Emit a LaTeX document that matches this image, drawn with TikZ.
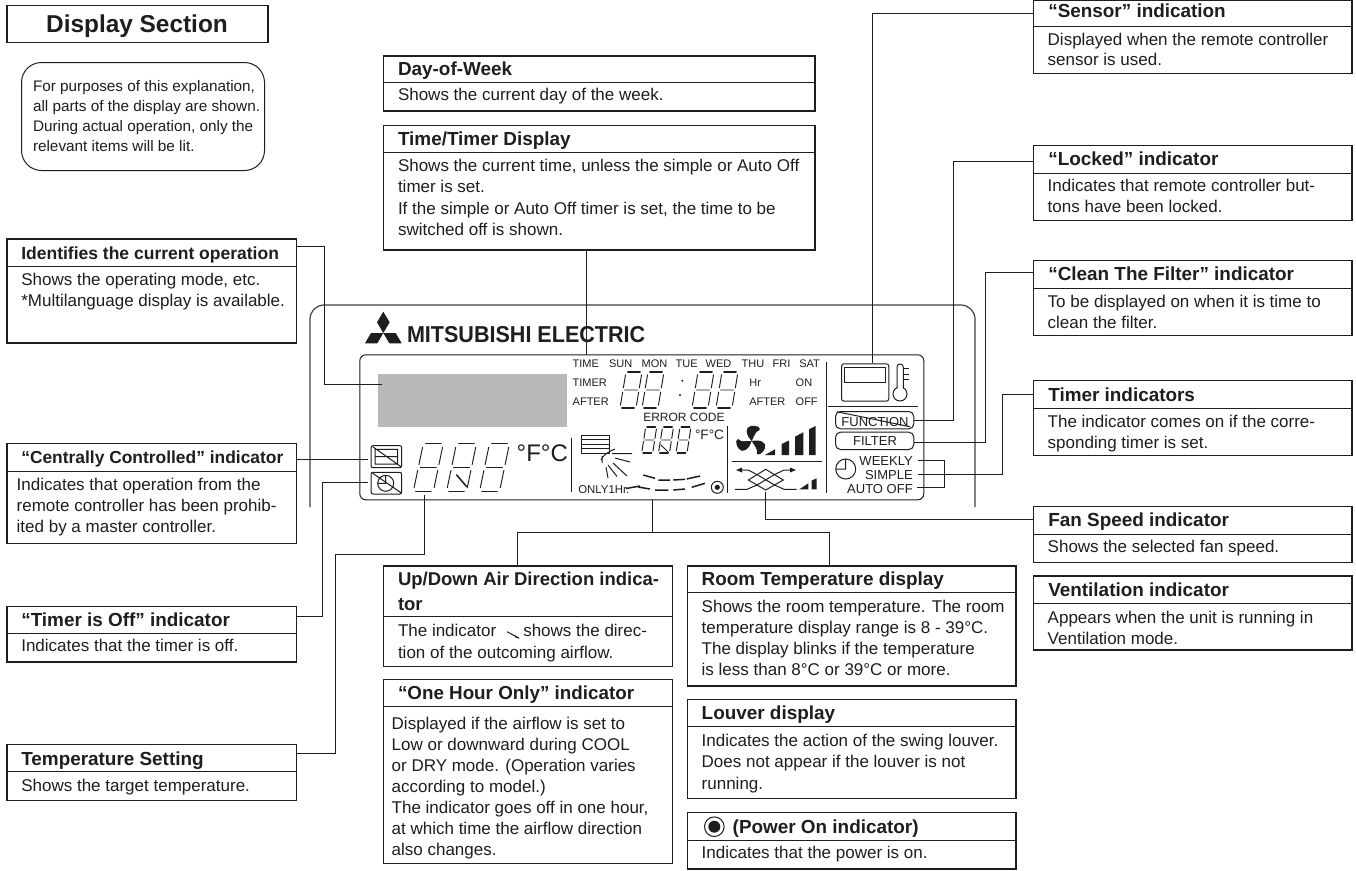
\documentclass[tikz,border=0pt]{standalone}
\usepackage{fontspec}
\setmainfont{Liberation Sans}
\definecolor{ink}{HTML}{1E1E1E}
\definecolor{lcd}{HTML}{B9B9B9}
\newcommand\fsz[1]{\fontsize{#1}{#1}\selectfont}
\tikzset{
  x=1pt,y=-1pt,
  inkline/.style={draw=ink,line width=1pt},
  conn/.style={draw=ink,line width=1pt},
  frameline/.style={draw=ink!85,line width=1.2pt},
  infobox/.style={draw=ink,line width=1.1pt,inner sep=0pt,outer sep=0pt,anchor=north west},
  lab/.style={inner sep=0pt,outer sep=0pt,text=ink},
  segthin/.style={draw=ink,line width=.95pt,line cap=round},
  segbold/.style={draw=ink,line width=1.5pt,line cap=round},
}
\newcommand\ibox[6]{%
  \node[infobox,minimum width={(#5-#2)*1pt},minimum height={(#6-#3)*1pt}] (#1) at (#2,#3) {};
  \draw[ink,line width=1pt] (#2,#4) -- (#5,#4);
}
\newcommand\ititle[5]{\node[lab,anchor=base west] (#1t) at (#2,#3) {\fsz{#4}\bfseries #5};}
\newcommand\ibody[5]{%
  \foreach \t [count=\i from 0] in {#5} {
    \node[lab,anchor=base west] (#1b\i) at (#2,{#3+#4*\i}) {\fsz{17}\t};
  }
}
% seven segment digit: x, y of lower left, width, height, slant
\newcommand\segdigit[5]{%
  \begin{scope}[shift={(#1,#2)},x={(#3pt,0pt)},y={(#5pt,#4pt)}]
    \draw[segbold] (.12,1)--(.88,1) (.12,0)--(.88,0);
    \draw[segthin] (.1,.5)--(.9,.5)
      (0,.56)--(0,.92) (1,.56)--(1,.92)
      (0,.08)--(0,.44) (1,.08)--(1,.44);
  \end{scope}
}
\begin{document}
\begin{tikzpicture}
\useasboundingbox (0,0) rectangle (1356,870);
\fill[white] (0,0) rectangle (1356,870);

% ---- controller frame and panel
\draw[frameline,rounded corners=14pt] (310,507)--(310,305)--(975,305)--(975,507);
\node[draw=ink,line width=1pt,rounded corners=6pt,inner sep=0pt,anchor=north west,
      minimum width=564pt,minimum height=145pt] (panel) at (359.3,354.3) {};
\node[fill=lcd,inner sep=0pt,anchor=north west,minimum width=188.7pt,minimum height=53.4pt] (gray) at (378,373.3) {};

% logo
\fill[ink] (383.3,311.7)--(389.7,322.3)--(383.3,333)--(377,322.3)--cycle;
\fill[ink] (383.3,333)--(371,333)--(365,343.3)--(377.3,343.3)--cycle;
\fill[ink] (383.3,333)--(395.7,333)--(401.7,343.3)--(389.3,343.3)--cycle;
\node[lab,anchor=base west] (logo) at (407,342.7) {\scalebox{.937}[1]{\fsz{23}\bfseries MITSUBISHI ELECTRIC}};

% panel labels
\foreach \n/\xx/\s in {TIME/572.7/a,SUN/609/b,MON/641.7/c,TUE/675.7/d,WED/705.7/e,THU/741.7/f,FRI/772.7/g,SAT/799.3/h}
  \node[lab,anchor=base west] (day\s) at (\xx,367.7) {\fsz{11}\n};
\node[lab,anchor=base west] (ltimer) at (572.7,386.7) {\fsz{11}TIMER};
\node[lab,anchor=base west] (lafter) at (572.7,405.7) {\fsz{11}AFTER};
\node[lab,anchor=base west] (lhr) at (749.3,386.7) {\fsz{11}Hr};
\node[lab,anchor=base west] (lon) at (795.7,386.7) {\fsz{11}ON};
\node[lab,anchor=base west] (lafterb) at (749.3,405.7) {\fsz{11}AFTER};
\node[lab,anchor=base west] (loff) at (795.7,405.7) {\fsz{11}OFF};
\node[lab,anchor=base west] (lerr) at (643.3,421.7) {\fsz{12}ERROR CODE};
\node[lab,anchor=base west] (lsfc) at (695,439) {\fsz{13.6}°F°C};
\node[lab,anchor=base west] (lbfc) at (516.7,461.7) {\fsz{24}°F°C};
\node[lab,anchor=base west] (lonly) at (578.3,493.3) {\fsz{11.4}ONLY1Hr.};

% separators
\draw[inkline] (571.7,438.3)--(571.7,492.3) (727.7,426)--(727.7,493.3) (826,361.7)--(826,493.3);
\draw[inkline] (828.3,406.7)--(918.3,406.7) (731.7,461)--(822.3,461);

% big digits
\segdigit{413.3}{491.5}{20}{48}{10}
\segdigit{446.5}{491.5}{20}{48}{10}
\segdigit{479.5}{491.5}{20}{48}{10}
\draw[segbold] (456.7,475)--(466.7,486.7);
% time digits
\segdigit{620}{408}{16}{36}{6}
\segdigit{642}{408}{16}{36}{6}
\segdigit{692}{408}{16}{36}{6}
\segdigit{716}{408}{16}{36}{6}
\fill[ink] (682.3,380.7) circle (1.1) (680,395) circle (1.1);
% error digits
\segdigit{641.7}{453}{11}{26}{4}
\segdigit{658.5}{453}{11}{26}{4}
\segdigit{676}{453}{11}{26}{4}
\draw[segthin] (661,445)--(668,452);

% left icons
\draw[inkline,rounded corners=2pt] (371,445.7) rectangle (401.7,467.7);
\draw[inkline] (375,449.3) rectangle (397.7,464) (375,456.7)--(397.7,456.7) (372.7,446.7)--(401,466.7);
\draw[inkline,rounded corners=2pt] (371,472.3) rectangle (401.7,494);
\draw[inkline] (385.7,483.3) circle (8) (385.7,475.3)--(385.7,483.3)--(378,483.3) (372.7,473.3)--(401,492.7);

% louver symbol
\draw[inkline] (581,435) rectangle (609,453.3);
\draw[inkline] (581,439.5)--(609,439.5) (581,444)--(609,444) (581,448.5)--(609,448.5);
\draw[inkline] (601,460)  .. controls (603,455) and (608,452) .. (615,449)
               (602,456)--(602,463);
\draw[inkline] (612,453.5)--(632,453.5) (615,458)--(630,462) (613,463)--(627,476) (608,465)--(617,476.5) (606,467)--(608,478);
% airflow dashes
\begin{scope}[line width=1.5pt,draw=ink]
\draw (643.3,475)--(655,478.3) (658.3,480)--(670,480) (673.3,480)--(685,479.3) (686.7,479)--(700,476);
\draw (638,487)--(650,489) (655,490)--(668.3,490) (673.3,490)--(685,489) (691.7,487.3)--(705,483.3);
\draw (626,488.5)--(640,486);
\end{scope}
\draw[inkline] (717.3,487.3) circle (6);
\fill[ink] (717.3,487.3) circle (2.6);

% fan
\begin{scope}[shift={(751.7,441)}]
\foreach \r in {0,118,238}
 \fill[ink,rotate=\r] (0,0) .. controls (-6,-6) and (-7,-14) .. (-1,-15) .. controls (6,-16) and (9,-13) .. (8,-11) .. controls (4,-10) and (3,-6) .. (0,0);
\end{scope}
\fill[ink] (765,455)--(775,449.3)--(775,455)--cycle;
\fill[ink] (781.7,455)--(781.7,444)--(789,440.5)--(789,455)--cycle;
\fill[ink] (795,455)--(795,436.7)--(803.3,432.3)--(803.3,455)--cycle;
\fill[ink] (809,455)--(809,429.3)--(815.7,426)--(815.7,455)--cycle;

% ventilation
\draw[inkline] (735,489.3)--(747,489.3)--(757,485)--(774.5,474.6)--(784,470)--(793,470);
\draw[inkline] (738,470)--(748,470)--(757,474.6)--(774.5,485)--(784,489.3)--(796.7,489.3);
\draw[inkline] (748.3,480)--(765.7,469.3)--(783.3,480)--(765.7,490)--cycle;
\fill[ink] (736,470)--(742,467.5)--(742,472.5)--cycle (796,470)--(790,467.5)--(790,472.5)--cycle;
\fill[ink] (799.3,489.3)--(808.3,489.3)--(808.3,483.3)--cycle;
\fill[ink] (811.7,489.3)--(811.7,480.5)--(816.7,478.3)--(816.7,489.3)--cycle;

% sensor icon
\node[draw=ink,line width=1pt,rounded corners=2.5pt,inner sep=0pt,anchor=north west,minimum width=47.3pt,minimum height=37.4pt] (sensoricon) at (841,363.3) {};
\draw[inkline] (844,367.3) rectangle (885,382.3);
\draw[inkline] (900,394) circle (7);
\fill[white] (897.4,385) rectangle (902.9,390);
\draw[inkline,rounded corners=3pt] (897,388.3)--(897,364)--(903.3,364)--(903.3,388.3);
\draw[inkline] (903.3,368.3)--(909.3,368.3) (903.3,374)--(909.3,374) (903.3,379.3)--(909.3,379.3);

% function / filter
\node[draw=ink,line width=1pt,rounded corners=5pt,inner sep=0pt,anchor=north west,minimum width=78.3pt,minimum height=17.3pt] (funcbox) at (835,411) {};
\node[lab,anchor=base] (functxt) at (875,426) {\fsz{13}FUNCTION};
\draw[inkline] (836.7,411.7)--(910,426.7);
\node[draw=ink,line width=1pt,rounded corners=5pt,inner sep=0pt,anchor=north west,minimum width=78.3pt,minimum height=17.3pt] (filtbox) at (835,431.7) {};
\node[lab,anchor=base] (filttxt) at (875,445.7) {\fsz{13}FILTER};
\draw[inkline] (845.7,469) circle (10) (845.7,459)--(845.7,469)--(835.7,469);
\node[lab,anchor=base east] (weekly) at (912.7,465) {\fsz{13}WEEKLY};
\node[lab,anchor=base east] (simple) at (912.7,479.3) {\fsz{13}SIMPLE};
\node[lab,anchor=base east] (autooff) at (912.7,493.3) {\fsz{13}AUTO OFF};

% ---- info boxes
\node[infobox,minimum width=261pt,minimum height=37pt] (disp) at (7,5.5) {};
\node[lab,anchor=base] (dispt) at (137,32) {\fsz{24.4}\bfseries Display Section};
\node[draw=ink,line width=1pt,rounded corners=20pt,inner sep=0pt,anchor=north west,minimum width=243pt,minimum height=108pt] (note) at (21,62) {};
\node[lab,anchor=base west] (n1) at (33,91) {\fsz{15.3}For purposes of this explanation,};
\node[lab,anchor=base west] (n2) at (33,111) {\fsz{15.3}all parts of the display are shown.};
\node[lab,anchor=base west] (n3) at (33,131) {\fsz{15.3}During actual operation, only the};
\node[lab,anchor=base west] (n4) at (33,151) {\fsz{15.3}relevant items will be lit.};

\ibox{id}{7}{239}{266.7}{296.5}{343}
\ititle{id}{21.3}{259}{17.5}{Identifies the current operation}
\ibody{id}{21.3}{285}{21.2}{{Shows the operating mode, etc.},*Multilanguage display is available.}

\ibox{cc}{7}{443.7}{471}{296.5}{543.7}
\ititle{cc}{21.3}{463}{17.4}{“Centrally Controlled” indicator}
\ibody{cc}{16.7}{490}{21}{Indicates that operation from the,remote controller has been prohib-,ited by a master controller.}

\ibox{to}{7}{606.7}{633}{296.5}{662}
\ititle{to}{21.3}{626}{18.9}{“Timer is Off” indicator}
\ibody{to}{21.3}{651.7}{21}{Indicates that the timer is off.}

\ibox{ts}{7}{744.7}{771.7}{296.5}{800.5}
\ititle{ts}{21.3}{765}{18.9}{Temperature Setting}
\ibody{ts}{21.3}{791}{21}{Shows the target temperature.}

\ibox{dw}{383.5}{56}{82.7}{815}{111}
\ititle{dw}{398}{75}{18.9}{Day-of-Week}
\ibody{dw}{398}{100.7}{21}{Shows the current day of the week.}

\ibox{tt}{383.5}{125.7}{152.7}{815}{250}
\ititle{tt}{398}{145}{18.9}{Time/Timer Display}
\ibody{tt}{398}{171.7}{21.2}{{Shows the current time, unless the simple or Auto Off},timer is set.,{If the simple or Auto Off timer is set, the time to be},switched off is shown.}

\ibox{ud}{383.5}{566}{616}{672.7}{666.7}
\ititle{ud}{398}{585}{18.5}{Up/Down Air Direction indica-}
\ititle{udx}{398}{610.7}{18.5}{tor}
\node[lab,anchor=base west] (ud1) at (398,636) {\fsz{17}The indicator\hspace{27pt}shows the direc-};
\node[lab,anchor=base west] (ud2) at (398,658) {\fsz{17}tion of the outcoming airflow.};
\draw[ink,line width=1pt] (507,631.7)--(519,638);
\fill[ink] (514,635)--(519.5,638.5)--(515.5,637.5)--cycle;

\ibox{oh}{383.5}{679.3}{706}{672.7}{863.3}
\ititle{oh}{398}{699}{18.8}{“One Hour Only” indicator}
\ibody{oh}{391.7}{729}{21.0}{Displayed if the airflow is set to,Low or downward during COOL,or DRY mode. (Operation varies,according to model.),{The indicator goes off in one hour,},at which time the airflow direction,also changes.}

\ibox{rt}{687.5}{566}{592.7}{1016}{686}
\ititle{rt}{701.7}{585.7}{18.9}{Room Temperature display}
\ibody{rt}{701.7}{612.3}{21.2}{Shows the room temperature. The room,temperature display range is 8 - 39°C.,The display blinks if the temperature,is less than 8°C or 39°C or more.}

\ibox{lv}{687.5}{699.3}{726}{1016}{798.3}
\ititle{lv}{701.7}{719}{18.9}{Louver display}
\ibody{lv}{701.7}{746.7}{21.2}{Indicates the action of the swing louver.,Does not appear if the louver is not,running.}

\ibox{po}{687.5}{812.7}{840}{1016}{869}
\draw[inkline] (714.3,826.7) circle (9.8);
\fill[ink] (714.3,826.7) circle (6);
\ititle{po}{732.7}{833.3}{18.9}{(Power On indicator)}
\ibody{po}{701.7}{858}{21}{Indicates that the power is on.}

\ibox{se}{1033.3}{.7}{26}{1352}{73.3}
\ititle{se}{1048.3}{17.3}{18.9}{“Sensor” indication}
\ibody{se}{1047.7}{45}{20.7}{Displayed when the remote controller,sensor is used.}

\ibox{lk}{1033.3}{145.7}{173.3}{1352}{220.7}
\ititle{lk}{1048.3}{165.7}{18.9}{“Locked” indicator}
\ibody{lk}{1047.7}{191.7}{20.7}{Indicates that remote controller but-,tons have been locked.}

\ibox{cf}{1033.3}{260.7}{288.3}{1352}{335.7}
\ititle{cf}{1048.3}{280.7}{18.9}{“Clean The Filter” indicator}
\ibody{cf}{1047.7}{307}{21.2}{To be displayed on when it is time to,clean the filter.}

\ibox{ti}{1033.3}{380.7}{408.3}{1352}{455.7}
\ititle{ti}{1048.3}{401}{18.9}{Timer indicators}
\ibody{ti}{1047.7}{427.7}{21.2}{The indicator comes on if the corre-,sponding timer is set.}

\ibox{fs}{1033.3}{506.7}{534}{1352}{562.7}
\ititle{fs}{1048.3}{526.7}{18.9}{Fan Speed indicator}
\ibody{fs}{1047.7}{552.7}{21}{Shows the selected fan speed.}

\ibox{ve}{1033.3}{576}{603.3}{1352}{650}
\ititle{ve}{1048.3}{596}{18.9}{Ventilation indicator}
\ibody{ve}{1047.7}{623}{21}{Appears when the unit is running in,Ventilation mode.}

% ---- connector ends inside the panel
\coordinate (tgray) at (382,384);
\coordinate (tcc) at (368,459);
\coordinate (tto) at (368,482);
\coordinate (ttemp) at (424,495);
\coordinate (ttime) at (586.7,355);
\coordinate (tair) at (652,500);
\coordinate (junc) at (652,532);
\coordinate (tfan) at (765,492);
\coordinate (tsens) at (872.7,362.8);

% ---- connectors
\draw[conn] ([yshift=-7pt]id.north east) -- ++(27.5,0) |- (tgray);
\draw[conn] (cc.east |- tcc) -- (tcc);
\draw[conn] ([yshift=-10pt]to.north east) -| (322,482) -- (tto);
\draw[conn] ([yshift=-8.3pt]ts.north east) -| (335,554) -| (ttemp);
\draw[conn] (tt.south -| ttime) -- (ttime);
\draw[conn] (tair) -- (junc);
\draw[conn] (ud.north -| 517,0) |- (junc);
\draw[conn] (rt.north -| 829,0) |- (junc);
\draw[conn] ([yshift=-12.3pt]se.north west) -| (tsens);
\draw[conn] ([yshift=-15.3pt]lk.north west) -| (953.3,420.7) -- (funcbox.east |- 0,420.7);
\draw[conn] ([yshift=-12pt]cf.north west) -| (985,442.3) -- (filtbox.east |- 0,442.3);
\draw[conn] ([yshift=-13.3pt]ti.north west) -| (1002,474) -- (918,474);
\draw[conn] (918,460.7) -| (944,487.7) -- (916.7,487.7);
\draw[conn] ([yshift=-12.6pt]fs.north west) -| (tfan);
\end{tikzpicture}
\end{document}
